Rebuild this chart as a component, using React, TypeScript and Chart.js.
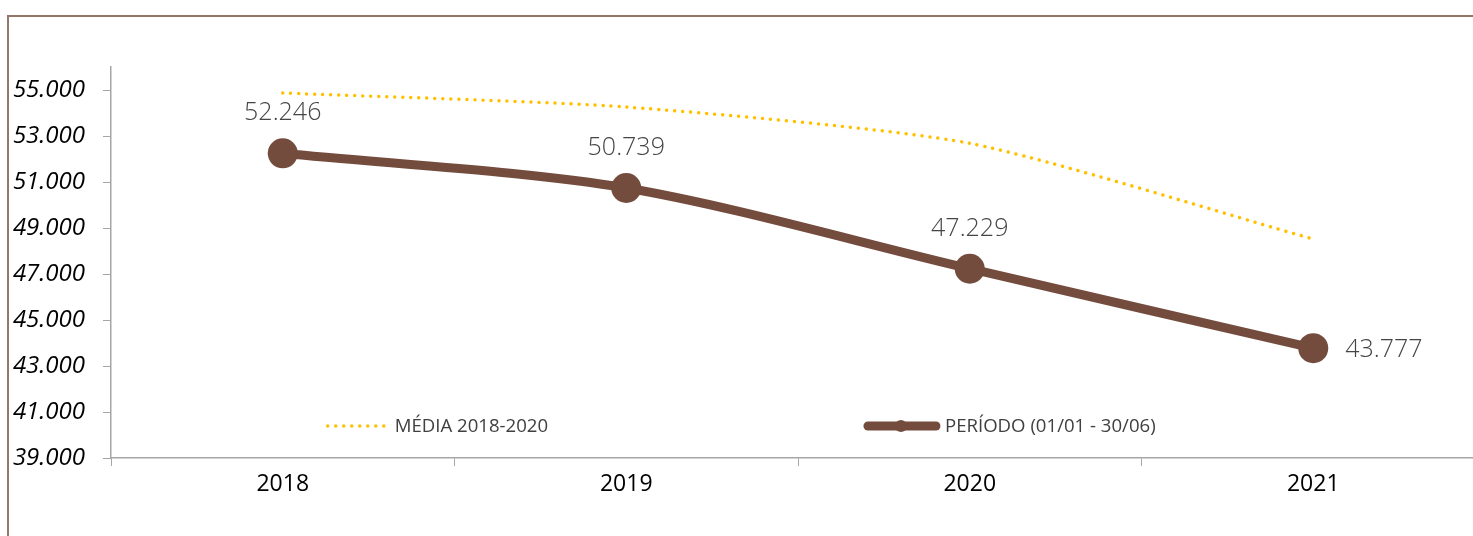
import React, { useEffect, useRef } from 'react';
import { Chart, registerables } from 'chart.js';

Chart.register(...registerables);

const categories = ['2018', '2019', '2020', '2021'];
const mediaLabel = 'MÉDIA 2018-2020';
const mediaValues = [54870, 54260, 52680, 48520];
const periodoLabel = 'PERÍODO (01/01 - 30/06)';
const periodoValues = [52246, 50739, 47229, 43777];
const yMin = 39000;
const yMax = 56000;
const yTickValues = [39000, 41000, 43000, 45000, 47000, 49000, 51000, 53000, 55000];

const MEDIA_COLOR = '#FFC000';
const PERIODO_COLOR = '#744C3E';
const AXIS_COLOR = '#A6A6A6';
const FONT = "'Open Sans', 'Noto Sans', sans-serif";

const fmt = (v: number) => String(Math.round(v)).replace(/\B(?=(\d{3})+(?!\d))/g, '.');

const dataLabelPlugin = {
  id: 'dataLabels',
  afterDatasetsDraw(chart: any) {
    const ctx = chart.ctx;
    const meta = chart.getDatasetMeta(1);
    const values = chart.data.datasets[1].data as number[];
    ctx.save();
    ctx.font = `300 25px ${FONT}`;
    ctx.fillStyle = '#454545';
    ctx.textBaseline = 'middle';
    meta.data.forEach((pt: any, i: number) => {
      const text = fmt(values[i]);
      if (i === values.length - 1) {
        ctx.textAlign = 'left';
        ctx.fillText(text, pt.x + 32, pt.y + 2);
      } else {
        ctx.textAlign = 'center';
        ctx.fillText(text, pt.x, pt.y - 40);
      }
    });
    ctx.restore();
  },
};

const legendPlugin = {
  id: 'customLegend',
  afterDraw(chart: any) {
    const ctx = chart.ctx;
    const area = chart.chartArea;
    const w = area.right - area.left;
    const y = area.bottom - 32;
    const ds = chart.data.datasets;
    ctx.save();
    ctx.font = `18.6px ${FONT}`;
    ctx.fillStyle = '#404040';
    ctx.textBaseline = 'middle';
    ctx.textAlign = 'left';

    // MÉDIA
    const x1 = area.left + 0.157 * w;
    ctx.strokeStyle = ds[0].borderColor;
    ctx.lineWidth = ds[0].borderWidth;
    ctx.lineCap = 'round';
    ctx.setLineDash(ds[0].borderDash);
    ctx.beginPath();
    ctx.moveTo(x1 + 1, y);
    ctx.lineTo(x1 + 59, y);
    ctx.stroke();
    ctx.setLineDash([]);
    ctx.fillText(ds[0].label, x1 + 68, y + 1);

    // PERÍODO
    const x2 = area.left + 0.548 * w;
    ctx.strokeStyle = ds[1].borderColor;
    ctx.lineWidth = ds[1].borderWidth;
    ctx.lineCap = 'round';
    ctx.beginPath();
    ctx.moveTo(x2 + 4, y);
    ctx.lineTo(x2 + 72, y);
    ctx.stroke();
    ctx.fillStyle = ds[1].borderColor;
    ctx.beginPath();
    ctx.arc(x2 + 37, y, 6, 0, Math.PI * 2);
    ctx.fill();
    ctx.fillStyle = '#404040';
    ctx.fillText(ds[1].label, x2 + 81, y + 1);
    ctx.restore();
  },
};

export default function App() {
  const ref = useRef<HTMLCanvasElement | null>(null);

  useEffect(() => {
    if (!ref.current) return;
    const chart = new Chart(ref.current, {
      type: 'line',
      data: {
        labels: categories,
        datasets: [
          {
            label: mediaLabel,
            data: mediaValues,
            borderColor: MEDIA_COLOR,
            backgroundColor: MEDIA_COLOR,
            borderWidth: 3.5,
            borderDash: [0.01, 8],
            borderCapStyle: 'round',
            pointRadius: 0,
            tension: 0.22,
            fill: false,
          },
          {
            label: periodoLabel,
            data: periodoValues,
            borderColor: PERIODO_COLOR,
            backgroundColor: PERIODO_COLOR,
            borderWidth: 9,
            borderCapStyle: 'round',
            pointRadius: 15,
            pointBorderWidth: 0,
            pointBackgroundColor: PERIODO_COLOR,
            tension: 0.3,
            fill: false,
          },
        ],
      },
      options: {
        responsive: false,
        animation: false,
        devicePixelRatio: 1,
        events: [],
        layout: { padding: { top: 67, right: 14, left: 0, bottom: 0 } },
        plugins: {
          legend: { display: false },
          tooltip: { enabled: false },
        },
        scales: {
          x: {
            type: 'category',
            offset: true,
            afterFit: (s: any) => { s.height = 78; },
            grid: {
              offset: true,
              drawOnChartArea: false,
              drawTicks: true,
              tickLength: 8,
              color: AXIS_COLOR,
            },
            border: { display: true, color: AXIS_COLOR, width: 1.5 },
            ticks: {
              color: '#000000',
              font: { family: FONT, size: 23 },
              padding: 5,
              maxRotation: 0,
            },
          },
          y: {
            type: 'linear',
            min: yMin,
            max: yMax,
            afterFit: (s: any) => { s.width = 111; },
            afterBuildTicks: (s: any) => { s.ticks = yTickValues.map((v) => ({ value: v })); },
            grid: {
              drawOnChartArea: false,
              drawTicks: true,
              tickLength: 8,
              color: AXIS_COLOR,
            },
            border: { display: true, color: AXIS_COLOR, width: 1.5 },
            ticks: {
              color: '#000000',
              font: { family: FONT, size: 24, style: 'italic' },
              padding: 18,
              callback: (v: any) => fmt(Number(v)),
            },
          },
        },
      },
      plugins: [dataLabelPlugin, legendPlugin],
    } as any);
    return () => chart.destroy();
  }, []);

  return (
    <div style={{ position: 'fixed', left: 0, top: 0, width: 1473, height: 536, overflow: 'hidden', background: '#fff' }}>
      <div
        style={{
          position: 'absolute',
          left: 7,
          top: 15,
          width: 2000,
          height: 1000,
          borderTop: '2px solid #957469',
          borderLeft: '2px solid #957469',
        }}
      />
      <canvas
        ref={ref}
        width={1500}
        height={536}
        style={{ position: 'absolute', left: 0, top: 0, width: 1500, height: 536 }}
      />
    </div>
  );
}
